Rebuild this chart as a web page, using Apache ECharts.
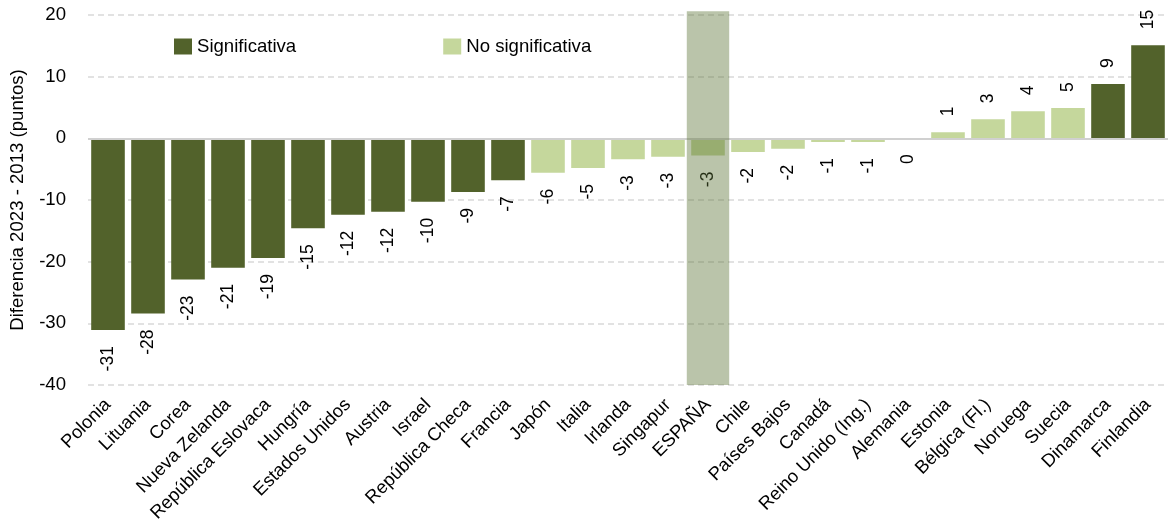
<!DOCTYPE html>
<html>
<head>
<meta charset="utf-8">
<script src="https://cdn.jsdelivr.net/npm/echarts@6/dist/echarts.min.js"></script>
<style>
html,body{margin:0;padding:0;background:#fff;}
#c{width:1168px;height:528px;}
</style>
</head>
<body>
<div id="c"></div>
<script>
var categories = ['Polonia','Lituania','Corea','Nueva Zelanda','República Eslovaca','Hungría','Estados Unidos','Austria','Israel','República Checa','Francia','Japón','Italia','Irlanda','Singapur','ESPAÑA','Chile','Países Bajos','Canadá','Reino Unido (Ing.)','Alemania','Estonia','Bélgica (Fl.)','Noruega','Suecia','Dinamarca','Finlandia'];
var values = [-31.1,-28.4,-22.9,-21.0,-19.4,-14.6,-12.4,-11.9,-10.3,-8.7,-6.8,-5.6,-4.8,-3.4,-3.0,-2.8,-2.2,-1.7,-0.6,-0.6,0,1.0,3.1,4.4,4.9,8.8,15.1];
var significant = [1,1,1,1,1,1,1,1,1,1,1,0,0,0,0,0,0,0,0,0,0,0,0,0,0,1,1];
var highlightCategory = 'ESPAÑA';
var bandRange = [-40, 20.6];

var DARK = '#52622b', LIGHT = '#c5d79c';
var FONT = 'Liberation Sans, Arial, sans-serif';

function makeData(sig) {
  return values.map(function (v, i) {
    if ((significant[i] === 1) !== sig) return '-';
    return {
      value: v,
      label: {
        position: v <= 0 ? 'bottom' : 'top',
        align: v <= 0 ? 'right' : 'left'
      }
    };
  });
}

var labelCommon = {
  show: true,
  rotate: 90,
  verticalAlign: 'middle',
  distance: 16,
  fontFamily: FONT,
  fontSize: 17.5,
  color: '#000',
  formatter: function (p) { return String(Math.round(p.value)); }
};

var bandIndex = categories.indexOf(highlightCategory);

var chart = echarts.init(document.getElementById('c'));
chart.setOption({
  animation: false,
  textStyle: { fontFamily: FONT },
  legend: {
    left: 169, top: 32,
    icon: 'rect',
    itemWidth: 18, itemHeight: 16, itemGap: 147,
    textStyle: { fontFamily: FONT, fontSize: 18.6, color: '#000' },
    data: ['Significativa', 'No significativa']
  },
  grid: { left: 80, right: 0, top: 15, bottom: 143, containLabel: false },
  xAxis: {
    type: 'category',
    data: categories,
    axisLine: { show: false },
    axisTick: { show: false },
    axisLabel: {
      rotate: 45, interval: 0, margin: 17,
      fontFamily: FONT, fontSize: 18.4, color: '#000'
    }
  },
  yAxis: {
    type: 'value',
    min: -40, max: 20, interval: 10,
    name: 'Diferencia 2023 - 2013 (puntos)',
    nameLocation: 'middle', nameGap: 61,
    nameTextStyle: { fontFamily: FONT, fontSize: 18.6, color: '#000' },
    axisLine: { show: false },
    axisTick: { show: false },
    axisLabel: { fontFamily: FONT, fontSize: 18.6, color: '#000', margin: 22 },
    splitLine: { lineStyle: { color: '#d9d9d9', type: [6, 4], width: 1.5 } }
  },
  series: [
    {
      name: 'Significativa', type: 'bar', stack: 'a',
      barCategoryGap: '16%',
      itemStyle: { color: DARK },
      label: labelCommon,
      data: makeData(true),
      markLine: {
        silent: true, symbol: 'none', label: { show: false },
        lineStyle: { color: '#d0d0d0', type: 'solid', width: 2 },
        data: [{ yAxis: 0 }]
      },
      z: 2
    },
    {
      name: 'No significativa', type: 'bar', stack: 'a',
      barCategoryGap: '16%',
      itemStyle: { color: LIGHT },
      label: labelCommon,
      data: makeData(false),
      z: 2
    },
    {
      type: 'custom',
      silent: true,
      z: 10,
      data: [[bandIndex, bandRange[0], bandRange[1]]],
      renderItem: function (params, api) {
        var top = api.coord([api.value(0), api.value(2)]);
        var bot = api.coord([api.value(0), api.value(1)]);
        var w = api.size([1, 0])[0] * 1.06;
        return {
          type: 'rect',
          shape: { x: top[0] - w / 2, y: top[1], width: w, height: bot[1] - top[1] },
          style: { fill: 'rgba(90,114,53,0.42)' }
        };
      }
    }
  ]
});
</script>
</body>
</html>
